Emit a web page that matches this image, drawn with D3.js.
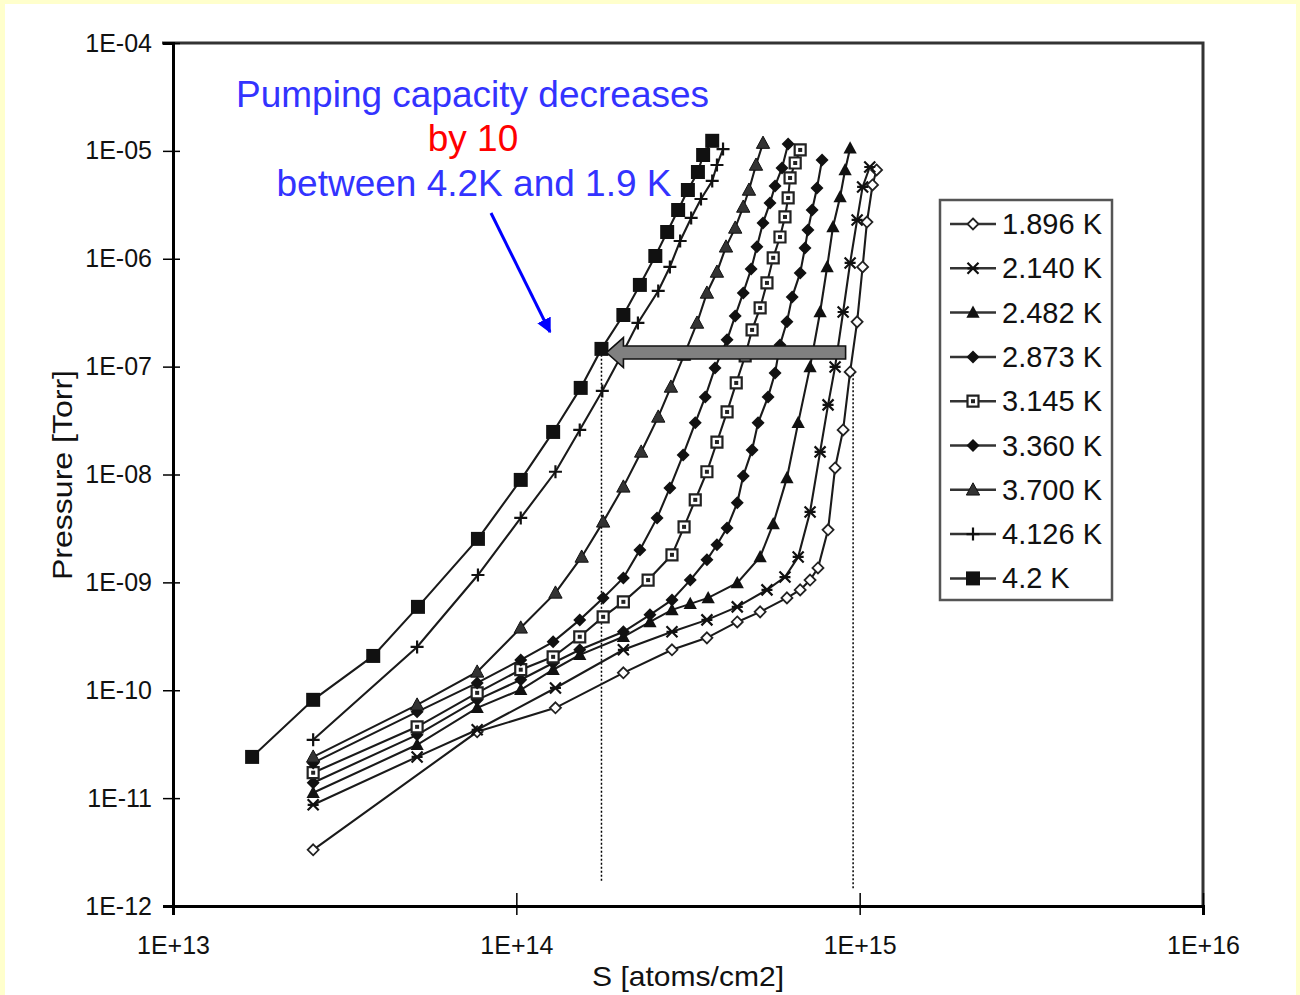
<!DOCTYPE html>
<html>
<head>
<meta charset="utf-8">
<script src="https://cdn.jsdelivr.net/npm/d3@7"></script>
<style>
body { margin: 0; background: #ffffcc; }
svg { display: block; font-family: "Liberation Sans", Arial, sans-serif; }
</style>
</head>
<body>
<script>
// temperatures, in legend order
var temps = ["1.896 K", "2.140 K", "2.482 K", "2.873 K", "3.145 K", "3.360 K", "3.700 K", "4.126 K", "4.2 K"];

// S [atoms/cm2] and P [Torr] for each isotherm
var s_1896 = [2.56e13, 7.69e13, 1.30e14, 2.05e14, 2.84e14, 3.59e14, 4.40e14, 5.13e14, 6.14e14, 6.71e14, 7.17e14, 7.56e14, 8.09e14, 8.48e14, 8.95e14, 9.38e14, 9.83e14, 1.02e15, 1.05e15, 1.09e15, 1.12e15];
var p_1896 = [3.32e-12, 4.12e-11, 6.87e-11, 1.45e-10, 2.37e-10, 3.06e-10, 4.30e-10, 5.33e-10, 7.18e-10, 8.52e-10, 1.05e-9, 1.36e-9, 3.07e-9, 1.15e-8, 2.59e-8, 8.93e-8, 2.60e-7, 8.39e-7, 2.19e-6, 4.83e-6, 6.65e-6];

var s_2140 = [2.56e13, 5.14e13, 7.69e13, 1.30e14, 2.05e14, 2.84e14, 3.59e14, 4.40e14, 5.37e14, 6.06e14, 6.62e14, 7.17e14, 7.67e14, 8.09e14, 8.48e14, 8.95e14, 9.38e14, 9.83e14, 1.02e15, 1.07e15];
var p_2140 = [8.67e-12, 2.41e-11, 4.30e-11, 1.05e-10, 2.37e-10, 3.48e-10, 4.49e-10, 5.93e-10, 8.52e-10, 1.12e-9, 1.72e-9, 4.50e-9, 1.62e-8, 4.42e-8, 9.94e-8, 3.21e-7, 9.14e-7, 2.29e-6, 4.63e-6, 7.09e-6];

var s_2482 = [2.56e13, 5.14e13, 7.69e13, 1.03e14, 1.28e14, 1.53e14, 2.05e14, 2.45e14, 2.84e14, 3.21e14, 3.62e14, 4.40e14, 5.13e14, 5.60e14, 6.14e14, 6.62e14, 7.17e14, 7.67e14, 8.04e14, 8.36e14, 8.77e14, 9.07e14, 9.38e14];
var p_2482 = [1.12e-11, 3.12e-11, 6.87e-11, 1.01e-10, 1.55e-10, 2.13e-10, 3.13e-10, 4.30e-10, 5.56e-10, 6.32e-10, 7.18e-10, 9.89e-10, 1.72e-9, 3.48e-9, 9.30e-9, 3.01e-8, 9.94e-8, 3.21e-7, 8.39e-7, 1.97e-6, 3.74e-6, 6.65e-6, 1.06e-5];

var s_2873 = [2.56e13, 5.14e13, 7.69e13, 1.03e14, 1.28e14, 1.53e14, 2.05e14, 2.45e14, 2.84e14, 3.21e14, 3.59e14, 3.84e14, 4.11e14, 4.40e14, 4.58e14, 4.86e14, 5.06e14, 5.41e14, 5.67e14, 5.86e14, 6.14e14, 6.36e14, 6.71e14, 6.93e14, 7.07e14, 7.27e14, 7.51e14, 7.77e14];
var p_2873 = [1.39e-11, 3.86e-11, 8.15e-11, 1.25e-10, 1.79e-10, 2.37e-10, 3.48e-10, 5.00e-10, 6.88e-10, 1.05e-9, 1.62e-9, 2.23e-9, 3.20e-9, 5.46e-9, 9.70e-9, 1.69e-8, 3.01e-8, 5.24e-8, 8.74e-8, 1.59e-7, 2.60e-7, 4.43e-7, 7.39e-7, 1.26e-6, 1.85e-6, 2.83e-6, 4.53e-6, 8.24e-6];

var s_3145 = [2.56e13, 5.14e13, 7.69e13, 1.03e14, 1.28e14, 1.53e14, 1.79e14, 2.05e14, 2.42e14, 2.84e14, 3.08e14, 3.32e14, 3.59e14, 3.84e14, 4.11e14, 4.37e14, 4.64e14, 4.86e14, 5.13e14, 5.37e14, 5.60e14, 5.86e14, 6.06e14, 6.19e14, 6.27e14, 6.49e14, 6.71e14];
var p_3145 = [1.72e-11, 4.58e-11, 9.46e-11, 1.55e-10, 2.04e-10, 3.13e-10, 4.79e-10, 6.60e-10, 1.05e-9, 1.80e-9, 3.27e-9, 5.82e-9, 1.06e-8, 2.00e-8, 3.80e-8, 7.06e-8, 1.26e-7, 2.19e-7, 3.50e-7, 5.97e-7, 1.02e-6, 1.59e-6, 2.44e-6, 3.66e-6, 5.61e-6, 7.72e-6, 1.02e-5];

var s_3360 = [2.56e13, 5.14e13, 7.69e13, 1.03e14, 1.28e14, 1.53e14, 1.79e14, 2.05e14, 2.29e14, 2.57e14, 2.80e14, 3.06e14, 3.32e14, 3.55e14, 3.79e14, 4.11e14, 4.34e14, 4.58e14, 4.83e14, 5.02e14, 5.23e14, 5.48e14, 5.67e14, 5.94e14, 6.19e14];
var p_3360 = [2.12e-11, 6.31e-11, 1.17e-10, 1.91e-10, 2.81e-10, 4.49e-10, 7.18e-10, 1.10e-9, 2.00e-9, 3.96e-9, 7.51e-9, 1.52e-8, 3.01e-8, 5.24e-8, 9.73e-8, 1.77e-7, 2.95e-7, 4.82e-7, 8.04e-7, 1.29e-6, 2.15e-6, 3.29e-6, 4.73e-6, 6.94e-6, 1.16e-5];

var s_3700 = [2.56e13, 5.14e13, 7.69e13, 1.03e14, 1.30e14, 1.55e14, 1.79e14, 2.05e14, 2.31e14, 2.59e14, 2.82e14, 3.08e14, 3.36e14, 3.59e14, 3.84e14, 4.08e14, 4.34e14, 4.58e14, 4.76e14, 4.99e14, 5.23e14];
var p_3700 = [2.41e-11, 7.32e-11, 1.48e-10, 3.79e-10, 7.99e-10, 1.72e-9, 3.64e-9, 7.68e-9, 1.62e-8, 3.42e-8, 6.48e-8, 1.28e-7, 2.54e-7, 4.82e-7, 7.54e-7, 1.29e-6, 1.93e-6, 3.02e-6, 4.34e-6, 7.40e-6, 1.18e-5];

var s_4126 = [2.56e13, 5.14e13, 7.73e13, 1.03e14, 1.30e14, 1.53e14, 1.78e14, 2.02e14, 2.26e14, 2.59e14, 2.80e14, 3.00e14, 3.23e14, 3.45e14, 3.72e14, 3.84e14, 4.00e14];
var p_4126 = [3.47e-11, 2.52e-10, 1.17e-9, 3.96e-9, 1.06e-8, 2.59e-8, 5.95e-8, 1.26e-7, 2.54e-7, 5.03e-7, 8.39e-7, 1.46e-6, 2.39e-6, 3.58e-6, 5.26e-6, 7.40e-6, 1.04e-5];

var s_4200 = [1.70e13, 2.56e13, 3.83e13, 5.17e13, 7.73e13, 1.03e14, 1.28e14, 1.54e14, 1.77e14, 2.05e14, 2.29e14, 2.54e14, 2.75e14, 2.96e14, 3.16e14, 3.38e14, 3.50e14, 3.72e14];
var p_4200 = [2.41e-11, 8.15e-11, 2.08e-10, 5.93e-10, 2.53e-9, 8.91e-9, 2.48e-8, 6.35e-8, 1.46e-7, 3.01e-7, 5.72e-7, 1.06e-6, 1.77e-6, 2.83e-6, 4.34e-6, 6.37e-6, 9.16e-6, 1.24e-5];

var xTicks = [1e13, 1e14, 1e15, 1e16];
var yTicks = [1e-12, 1e-11, 1e-10, 1e-9, 1e-8, 1e-7, 1e-6, 1e-5, 1e-4];

// annotation anchors (data units)
var guideS = [1.77e14, 9.57e14];     // dotted verticals
var guideTop = [1.40e-7, 8.5e-8];
var guideBottom = [1.64e-12, 1.41e-12];
var arrowFrom = [9.1e14, 1.35e-7], arrowTo = [1.83e14, 1.35e-7];

var seriesS = [s_1896, s_2140, s_2482, s_2873, s_3145, s_3360, s_3700, s_4126, s_4200];
var seriesP = [p_1896, p_2140, p_2482, p_2873, p_3145, p_3360, p_3700, p_4126, p_4200];
var markers = ["diamondOpen", "star", "triangle", "diamond", "squareDot", "diamond", "triangleGray", "plus", "square"];

var width = 1300, height = 995;
var svg = d3.select("body").append("svg").attr("width", width).attr("height", height);
svg.append("rect").attr("x", 5).attr("y", 4).attr("width", 1291).attr("height", 991).attr("fill", "#fff");

var x = d3.scaleLog().domain([1e13, 1e16]).range([173, 1203]);
var y = d3.scaleLog().domain([1e-12, 1e-4]).range([906, 43]);

function minors(lo, hi) {
    var out = [];
    for (var e = lo; e < hi; e++)
        for (var k = 2; k <= 9; k++) out.push(k * Math.pow(10, e));
    return out;
}
function expo(d) { return Math.round(Math.log10(d)); }
function pad2(n) { n = Math.abs(n); return (n < 10 ? "0" : "") + n; }

// frame top / right
svg.append("path").attr("d", "M162,43H1203V906").attr("fill", "none").attr("stroke", "#333").attr("stroke-width", 3);

// X axis
var gx = svg.append("g").attr("transform", "translate(0,906)");
gx.call(d3.axisBottom(x).tickValues(minors(13, 16)).tickSize(-9).tickFormat(""));
gx.call(d3.axisBottom(x).tickValues(xTicks).tickSize(9).tickPadding(21)
    .tickFormat(function(d){ return "1E+" + expo(d); }));
gx.append("g").call(d3.axisBottom(x).tickValues(xTicks).tickSize(-13).tickFormat(""))
  .select(".domain").remove();
gx.selectAll(".domain").attr("stroke-width", 3).attr("stroke", "#000");
gx.selectAll(".tick line").attr("stroke", "#000").attr("stroke-width", 1.5);
gx.selectAll(".tick text").attr("font-size", 25).attr("fill", "#111")
  .attr("font-family", "Liberation Sans, Arial, sans-serif");

// Y axis
var gy = svg.append("g").attr("transform", "translate(173,0)");
gy.call(d3.axisLeft(y).tickValues(minors(-12, -4)).tickSize(-6).tickFormat(""));
gy.call(d3.axisLeft(y).tickValues(yTicks).tickSize(10).tickPadding(11)
    .tickFormat(function(d){ return "1E-" + pad2(expo(d)); }));
gy.append("g").call(d3.axisLeft(y).tickValues(yTicks).tickSize(-7).tickFormat(""))
  .select(".domain").remove();
gy.selectAll(".domain").attr("stroke-width", 3).attr("stroke", "#000");
gy.selectAll(".tick line").attr("stroke", "#000").attr("stroke-width", 1.5);
gy.selectAll(".tick text").attr("font-size", 25).attr("fill", "#111")
  .attr("font-family", "Liberation Sans, Arial, sans-serif");

// axis titles
svg.append("text").attr("x", 688).attr("y", 986).attr("text-anchor", "middle")
   .attr("font-size", 28).attr("fill", "#111").attr("textLength", 192)
   .attr("lengthAdjust", "spacingAndGlyphs").text("S [atoms/cm2]");
svg.append("text").attr("transform", "translate(72,475) rotate(-90)").attr("text-anchor", "middle")
   .attr("font-size", 28).attr("fill", "#111").attr("textLength", 210)
   .attr("lengthAdjust", "spacingAndGlyphs").text("Pressure [Torr]");

// dotted guides
guideS.forEach(function(s, i){
    svg.append("line").attr("x1", x(s)).attr("x2", x(s))
       .attr("y1", y(guideTop[i])).attr("y2", y(guideBottom[i]))
       .attr("stroke", "#000").attr("stroke-width", 1.5).attr("stroke-dasharray", "2,2");
});

// marker shapes
function markerPath(type, r) {
    switch (type) {
        case "diamondOpen":
        case "diamond": return "M0," + (-r) + "L" + r + ",0L0," + r + "L" + (-r) + ",0Z";
        case "triangle":
        case "triangleGray": return "M0," + (-r) + "L" + (r * 0.95) + "," + (r * 0.75) + "L" + (-r * 0.95) + "," + (r * 0.75) + "Z";
        case "square":
        case "squareDot": return "M" + (-r) + "," + (-r) + "h" + (2 * r) + "v" + (2 * r) + "h" + (-2 * r) + "Z";
        case "plus": return "M" + (-r) + ",0H" + r + "M0," + (-r) + "V" + r;
        case "star": return "M" + (-r) + "," + (-r) + "L" + r + "," + r + "M" + (-r) + "," + r + "L" + r + "," + (-r) + "M" + (-r) + ",0H" + r;
    }
}
var markerSize = { diamondOpen: 5.5, star: 5.5, triangle: 7, diamond: 6.5, squareDot: 5.5, triangleGray: 7, plus: 6.5, square: 7 };

function drawMarker(g, type) {
    var r = markerSize[type];
    var p = g.append("path").attr("d", markerPath(type, r));
    if (type === "diamondOpen") p.attr("fill", "#fff").attr("stroke", "#222").attr("stroke-width", 1.8);
    else if (type === "star" || type === "plus") p.attr("fill", "none").attr("stroke", "#111").attr("stroke-width", 2.2);
    else if (type === "squareDot") {
        p.attr("fill", "#fff").attr("stroke", "#222").attr("stroke-width", 2.2);
        g.append("rect").attr("x", -2).attr("y", -2).attr("width", 4).attr("height", 4).attr("fill", "#222");
    }
    else if (type === "triangleGray") p.attr("fill", "#333").attr("stroke", "#111").attr("stroke-width", 1);
    else p.attr("fill", "#111");
}

var line = d3.line().x(function(d){ return x(d[0]); }).y(function(d){ return y(d[1]); });

seriesS.forEach(function(sArr, i){
    var pts = sArr.map(function(s, j){ return [s, seriesP[i][j]]; });
    var g = svg.append("g").attr("class", "series");
    g.append("path").datum(pts).attr("d", line).attr("fill", "none")
     .attr("stroke", "#1a1a1a").attr("stroke-width", 2.1);
    g.selectAll(".m").data(pts).enter().append("g").attr("class", "m")
     .attr("transform", function(d){ return "translate(" + x(d[0]) + "," + y(d[1]) + ")"; })
     .each(function(){ drawMarker(d3.select(this), markers[i]); });
});

// grey block arrow
(function(){
    var x0 = x(arrowFrom[0]), x1 = x(arrowTo[0]), yc = y(arrowTo[1]);
    var hl = 17, hh = 15, sh = 6.5;
    var d = "M" + x1 + "," + yc + "L" + (x1 + hl) + "," + (yc - hh) + "V" + (yc - sh) + "H" + x0 +
            "V" + (yc + sh) + "H" + (x1 + hl) + "V" + (yc + hh) + "Z";
    svg.append("path").attr("d", d).attr("fill", "#808080").attr("stroke", "#111").attr("stroke-width", 1.6);
})();

// annotation text
var note = svg.append("g").attr("font-size", 37).attr("font-family", "Liberation Sans, Arial, sans-serif");
note.append("text").attr("x", 236).attr("y", 107).attr("fill", "#3333ff").text("Pumping capacity decreases");
note.append("text").attr("x", 473).attr("y", 151).attr("text-anchor", "middle").attr("fill", "#ff0000").text("by 10");
note.append("text").attr("x", 474).attr("y", 196).attr("text-anchor", "middle").attr("fill", "#3333ff").text("between 4.2K and 1.9 K");

// blue arrow
svg.append("defs").append("marker").attr("id", "bluehead").attr("viewBox", "0 0 10 10")
   .attr("refX", 9).attr("refY", 5).attr("markerWidth", 5).attr("markerHeight", 5)
   .attr("orient", "auto").attr("markerUnits", "strokeWidth")
   .append("path").attr("d", "M0,0L10,5L0,10Z").attr("fill", "#0000ff");
svg.append("line").attr("x1", 491).attr("y1", 213).attr("x2", 550).attr("y2", 332)
   .attr("stroke", "#0000ff").attr("stroke-width", 3).attr("marker-end", "url(#bluehead)");

// legend
var lg = svg.append("g").attr("transform", "translate(940,200)");
lg.append("rect").attr("width", 172).attr("height", 400).attr("fill", "#fff")
  .attr("stroke", "#555").attr("stroke-width", 2.5);
temps.forEach(function(t, i){
    var row = lg.append("g").attr("transform", "translate(0," + (24 + i * 44.3) + ")");
    row.append("line").attr("x1", 10).attr("x2", 56).attr("stroke", "#333").attr("stroke-width", 2.5);
    var m = row.append("g").attr("transform", "translate(33,0)");
    drawMarker(m, markers[i]);
    row.append("text").attr("x", 62).attr("y", 10).attr("font-size", 29).attr("fill", "#111").text(t);
});
</script>
</body>
</html>
